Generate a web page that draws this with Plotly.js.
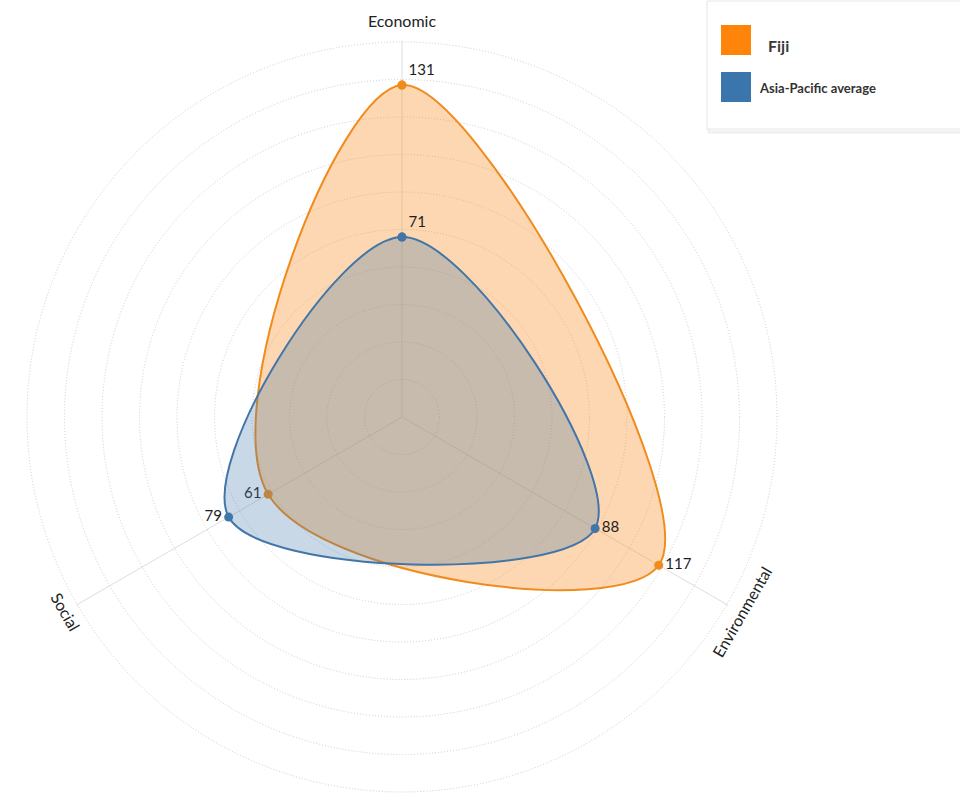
<!DOCTYPE html>
<html>
<head>
<meta charset="utf-8">
<script src="https://cdn.plot.ly/plotly-3.0.1.min.js"></script>
<style>
  html, body { margin: 0; padding: 0; background: #ffffff; }
  #chart { width: 960px; height: 794px; }
</style>
</head>
<body>
<div id="chart"></div>
<script>
// Sustainability dimensions and scores
const dimensions = ["Economic", "Environmental", "Social"];
const seriesNames = ["Fiji", "Asia-Pacific average"];
const fijiScores = [131, 117, 61];
const asiaPacificScores = [71, 88, 79];
const gridValues = [14.8, 29.6, 44.4, 59.2, 74, 88.8, 103.6, 118.4, 133.2, 148];
const radialMax = 148.5;

const FONT = "Lato, 'Open Sans', 'DejaVu Sans', sans-serif";
const lineColors = ["rgb(240,140,30)", "rgb(66,117,168)"];
const fillColors = ["rgba(250,150,50,0.38)", "rgba(70,120,170,0.29)"];
const labelPositions = [
  ["top right", "middle right", "middle left"],
  ["top right", "middle right", "middle left"]
];

// close each loop by repeating the first vertex so the spline is drawn as a closed curve
function closeLoop(arr) { return arr.concat([arr[0]]); }

function radarTrace(scores, idx) {
  return {
    type: "scatterpolar",
    r: closeLoop(scores),
    theta: closeLoop(dimensions),
    mode: "lines+markers+text",
    fill: "toself",
    fillcolor: fillColors[idx],
    line: { color: lineColors[idx], width: 2, shape: "spline", smoothing: 1.1 },
    marker: { color: lineColors[idx], size: 9 },
    text: scores.map(String).concat([""]),
    textposition: closeLoop(labelPositions[idx]),
    textfont: { family: FONT, size: 15, color: "#1e1e1e" },
    name: seriesNames[idx],
    hoverinfo: "skip",
    showlegend: false
  };
}

const data = [radarTrace(fijiScores, 0), radarTrace(asiaPacificScores, 1)];

// web centre and radius in pixels
const cx = 402, cy = 417, rad = 375 * radialMax / 148;

// axis titles placed around the web, rotated along the spokes
const axisLabelSpots = [
  { x: 402, y: 20, angle: 0 },
  { x: 741, y: 612, angle: -60 },
  { x: 66, y: 611, angle: 60 }
];
const annotations = dimensions.map((d, i) => ({
  text: d,
  xref: "paper", yref: "paper",
  x: axisLabelSpots[i].x / 960,
  y: 1 - axisLabelSpots[i].y / 794,
  xanchor: "center", yanchor: "middle",
  textangle: axisLabelSpots[i].angle,
  showarrow: false,
  font: { family: FONT, size: 16, color: "#222222" }
}));

// legend panel
const px = v => v / 960;
const py = v => 1 - v / 794;
const shapes = [
  { type: "rect", xref: "paper", yref: "paper", x0: px(709), x1: px(962), y0: py(132), y1: py(3),
    line: { color: "#f0f0f0", width: 3 }, fillcolor: "rgba(0,0,0,0)", layer: "above" },
  { type: "rect", xref: "paper", yref: "paper", x0: px(707), x1: px(962), y0: py(129), y1: py(1),
    line: { color: "#e6e6e6", width: 1 }, fillcolor: "#ffffff", layer: "above" },
  { type: "rect", xref: "paper", yref: "paper", x0: px(721), x1: px(751), y0: py(55), y1: py(25),
    line: { width: 0 }, fillcolor: "rgb(255,133,10)", layer: "above" },
  { type: "rect", xref: "paper", yref: "paper", x0: px(721), x1: px(751), y0: py(102), y1: py(72),
    line: { width: 0 }, fillcolor: "rgb(58,118,172)", layer: "above" }
];
annotations.push(
  { text: "<b>" + seriesNames[0] + "</b>", xref: "paper", yref: "paper",
    x: px(766), y: py(45), xanchor: "left", yanchor: "middle", showarrow: false,
    font: { family: FONT, size: 16, color: "#3a3a3a" } },
  { text: "<b>" + seriesNames[1] + "</b>", xref: "paper", yref: "paper",
    x: px(757), y: py(88), xanchor: "left", yanchor: "middle", showarrow: false,
    font: { family: FONT, size: 13, color: "#333333" } }
);

const layout = {
  width: 960,
  height: 794,
  margin: { l: 0, r: 0, t: 0, b: 0 },
  paper_bgcolor: "#ffffff",
  showlegend: false,
  polar: {
    domain: { x: [(cx - rad) / 960, (cx + rad) / 960], y: [1 - (cy + rad) / 794, 1 - (cy - rad) / 794] },
    bgcolor: "rgba(0,0,0,0)",
    radialaxis: {
      range: [0, radialMax],
      tickvals: gridValues,
      showticklabels: false,
      ticks: "",
      showline: false,
      gridcolor: "#cccccc",
      gridwidth: 1,
      griddash: "1px,2px"
    },
    angularaxis: {
      type: "category",
      categoryarray: dimensions,
      rotation: 90,
      direction: "clockwise",
      showticklabels: false,
      ticks: "",
      showline: false,
      gridcolor: "#dddddd",
      gridwidth: 1
    }
  },
  shapes: shapes,
  annotations: annotations
};

Plotly.newPlot("chart", data, layout, { displayModeBar: false, staticPlot: true });
</script>
</body>
</html>
